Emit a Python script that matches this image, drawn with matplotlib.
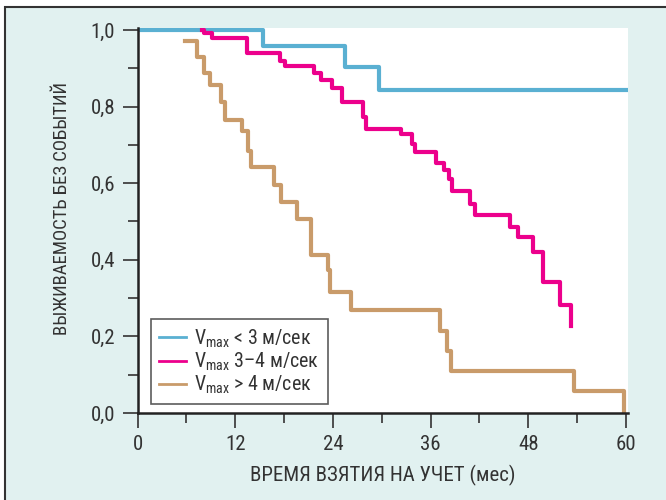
import matplotlib
matplotlib.use('Agg')
import matplotlib.pyplot as plt
from matplotlib import font_manager as fm
from matplotlib.patches import Rectangle
from matplotlib.ticker import MultipleLocator, FuncFormatter

# pick a condensed sans that is installed
font = 'DejaVu Sans'
for cand in ['Liberation Sans Narrow', 'Roboto Condensed', 'PT Sans Narrow',
             'Arial Narrow', 'Archivo Narrow']:
    try:
        fm.findfont(cand, fallback_to_default=False)
        font = cand
        break
    except ValueError:
        pass

plt.rcParams['font.family'] = [font, 'DejaVu Sans']
plt.rcParams['mathtext.fontset'] = 'custom'
plt.rcParams['mathtext.rm'] = font

# Kaplan-Meier curves: event times (months) and survival after each event
low_t = [0, 15.4, 25.5, 29.7, 60]
low_s = [1.0, 0.958, 0.902, 0.842, 0.842]

mid_t = [7.9, 8.2, 9.1, 13.5, 17.5, 18.1, 21.7, 22.5, 23.9, 25.1, 27.7, 28.1,
         32.4, 33.7, 34.1, 36.7, 37.6, 38.3, 38.6, 40.9, 41.5, 45.8, 46.7,
         48.6, 49.8, 51.9, 53.3]
mid_s = [1.0, 0.993, 0.98, 0.939, 0.92, 0.906, 0.887, 0.869, 0.848, 0.813,
         0.772, 0.741, 0.728, 0.702, 0.681, 0.653, 0.634, 0.612, 0.58, 0.545,
         0.517, 0.486, 0.459, 0.421, 0.341, 0.282, 0.227]

high_t = [5.8, 7.3, 8.2, 8.9, 10.2, 10.8, 12.8, 13.6, 14.0, 16.8, 17.6, 19.6,
          21.3, 23.4, 23.7, 26.2, 37.2, 38.0, 38.5, 53.6, 59.8]
high_s = [0.97, 0.929, 0.887, 0.856, 0.813, 0.765, 0.737, 0.685, 0.641, 0.595,
          0.552, 0.506, 0.413, 0.373, 0.317, 0.269, 0.215, 0.163, 0.110, 0.058,
          0.004]

labels = [r'V$_{\mathregular{max}}$ < 3 м/сек',
          r'V$_{\mathregular{max}}$ 3–4 м/сек',
          r'V$_{\mathregular{max}}$ > 4 м/сек']
colors = ['#5ab0d2', '#ec008c', '#c99b6a']

bg = '#e1f1f0'
fig = plt.figure(figsize=(6.66, 5), dpi=100, facecolor='white')
fig.patches.append(Rectangle((5 / 666, -0.05), 1.1, 493 / 500 + 0.05,
                             transform=fig.transFigure, facecolor=bg,
                             edgecolor='#333333', linewidth=1.5, zorder=-10))

ax = fig.add_axes([137.5 / 666, 87 / 500, (628 - 137.5) / 666, 385 / 500])
ax.set_facecolor('white')

ax.step(low_t, low_s, where='post', color=colors[0], lw=3, label=labels[0])
ax.step(mid_t, mid_s, where='post', color=colors[1], lw=3, label=labels[1])
ax.step(high_t, high_s, where='post', color=colors[2], lw=3, label=labels[2])

ax.set_xlim(0, 60.25)
ax.set_ylim(0, 1.005)
ax.xaxis.set_major_locator(MultipleLocator(12))
ax.xaxis.set_minor_locator(MultipleLocator(6))
ax.yaxis.set_major_locator(MultipleLocator(0.2))
ax.yaxis.set_minor_locator(MultipleLocator(0.1))
ax.yaxis.set_major_formatter(FuncFormatter(lambda v, p: f'{v:.1f}'.replace('.', ',')))

for s in ['top', 'right']:
    ax.spines[s].set_visible(False)
for s in ['left', 'bottom']:
    ax.spines[s].set_linewidth(1.8)
    ax.spines[s].set_color('#222222')
ax.tick_params(which='major', direction='out', length=11, width=1.2,
               color='#333333', labelsize=15, labelcolor='#333333', pad=5)
ax.tick_params(which='minor', direction='out', length=7, width=1.2, color='#333333')

ax.set_xlabel('ВРЕМЯ ВЗЯТИЯ НА УЧЕТ (мес)', fontsize=15, color='#333333', labelpad=8)
ax.set_ylabel('ВЫЖИВАЕМОСТЬ БЕЗ СОБЫТИЙ', fontsize=13.5, color='#333333')
ax.yaxis.set_label_coords(-0.135, 0.53)

leg = ax.legend(loc='lower left', bbox_to_anchor=(0.027, 0.023), fontsize=14.3,
                frameon=True, fancybox=False, handlelength=1.4, handletextpad=0.4,
                borderpad=0.4, labelspacing=0.05, borderaxespad=0)
leg.get_frame().set_edgecolor('#333333')
leg.get_frame().set_linewidth(1.2)
for h in leg.get_lines():
    h.set_linewidth(2)
for t in leg.get_texts():
    t.set_color('#333333')

fig.savefig('out.png', dpi=100, facecolor=fig.get_facecolor())
